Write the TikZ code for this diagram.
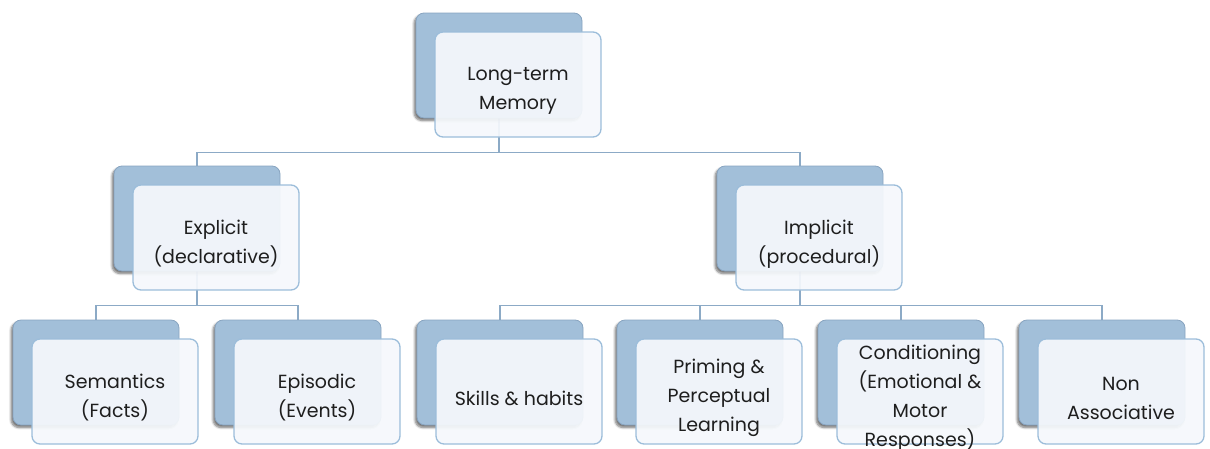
\documentclass[tikz,border=0pt]{standalone}
\usepackage{fontspec}
\setmainfont{Poppins}
\usetikzlibrary{shadows.blur,backgrounds}

\definecolor{backfill}{RGB}{162,191,217}
\definecolor{backline}{RGB}{136,164,192}
\definecolor{frontfill}{RGB}{245,248,252}
\definecolor{frontline}{RGB}{156,189,218}
\definecolor{connline}{RGB}{140,170,198}
\definecolor{labeltext}{RGB}{30,30,30}

\tikzset{
  backbox/.style={draw=backline, fill=backfill, line width=0.8pt,
    rounded corners=8pt, minimum width=166pt, minimum height=105pt, inner sep=0pt,
    blur shadow={shadow xshift=-2pt, shadow yshift=-2.5pt, shadow blur steps=6,
      shadow opacity=55, shadow blur extra rounding=2pt}},
  frontbox/.style={draw=frontline, fill=frontfill, fill opacity=0.93, draw opacity=1,
    line width=1.3pt, rounded corners=8pt, minimum width=166pt, minimum height=105pt,
    inner sep=0pt},
  boxtext/.style={text=labeltext, align=center, inner sep=0pt,
    font=\fontsize{19}{29}\selectfont},
  conn/.style={draw=connline, line width=1.8pt}
}

% one memory category: shaded back card, translucent front card, label
\newcommand\memorybox[4]{%
  \node[backbox] (#1-b) at (#2+83,#3+52.5) {};
  \node[frontbox] (#1-f) at (#2+102,#3+71.5) {};
  \node[boxtext] (#1) at (#2+102,#3+78) {#4};
}

\begin{document}
\begin{tikzpicture}[x=1pt,y=-1pt]
  \useasboundingbox (0,0) rectangle (1210,448);

  \memorybox{ltm}{416}{13}{Long-term\\Memory}
  \memorybox{exp}{114}{166}{Explicit\\(declarative)}
  \memorybox{imp}{717}{166}{Implicit\\(procedural)}
  \memorybox{sem}{13}{320}{Semantics\\(Facts)}
  \memorybox{epi}{215}{320}{Episodic\\(Events)}
  \memorybox{ski}{417}{320}{Skills \& habits}
  \memorybox{pri}{617}{320}{Priming \&\\Perceptual\\Learning}
  \memorybox{con}{818}{320}{Conditioning\\(Emotional \&\\Motor\\Responses)}
  \memorybox{non}{1019}{320}{Non\\Associative}

  % tree connectors, kept behind the cards
  \begin{scope}[on background layer]
    \draw[conn] (ltm-b.south) -- ++(0,34) -| (exp-b.north);
    \draw[conn] (ltm-b.south) -- ++(0,34) -| (imp-b.north);
    \draw[conn] (exp-b.south) -- ++(0,34) -| (sem-b.north);
    \draw[conn] (exp-b.south) -- ++(0,34) -| (epi-b.north);
    \draw[conn] (imp-b.south) -- ++(0,34) -| (ski-b.north);
    \draw[conn] (imp-b.south) -- ++(0,34) -| (pri-b.north);
    \draw[conn] (imp-b.south) -- ++(0,34) -| (con-b.north);
    \draw[conn] (imp-b.south) -- ++(0,34) -| (non-b.north);
  \end{scope}
\end{tikzpicture}
\end{document}
